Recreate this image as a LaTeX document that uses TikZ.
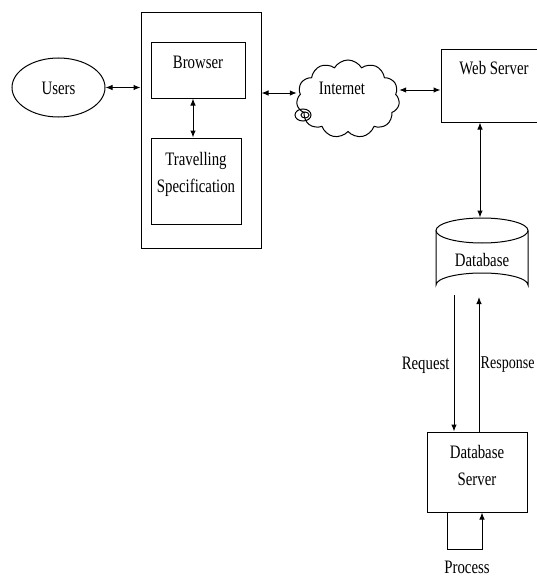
\documentclass[tikz,border=0pt]{standalone}
\usepackage{fontspec}
\setmainfont[FakeStretch=0.78]{Liberation Serif}
\usetikzlibrary{shapes.geometric,shapes.symbols,arrows.meta}
\begin{document}
\begin{tikzpicture}[x=1pt,y=-1pt,
  line width=1pt,
  box/.style={draw, rectangle, inner sep=0pt},
  txt/.style={inner sep=0pt, align=center, font=\fontsize{19}{27}\selectfont},
  tip/.style={-{Latex[length=7pt,width=5.5pt]}},
  dtip/.style={{Latex[length=7pt,width=5.5pt]}-{Latex[length=7pt,width=5.5pt]}}]
\useasboundingbox (0,0) rectangle (536,578);
% nodes
\node[draw, ellipse, minimum width=93, minimum height=59, inner sep=0pt] (users) at (58.5,87.5) {};
\node[txt] (userst) at (58.5,88) {Users};
\node[box, minimum width=120, minimum height=235] (outer) at (201,130.5) {};
\node[box, minimum width=94, minimum height=55] (browser) at (198,70.5) {};
\node[txt] (browsert) at (198,62) {Browser};
\node[box, minimum width=90, minimum height=86] (travel) at (196,181) {};
\node[txt] (travelt) at (196,174) {Travelling\\Specification};
\node[draw, cloud, cloud puffs=11, cloud puff arc=120, aspect=1.35, minimum width=103, minimum height=78, inner sep=0pt] (cloud) at (348,99) {};
\node[txt] (cloudt) at (342,88) {Internet};
\draw (303,115) ellipse [x radius=8, y radius=6];
\draw (305,115) ellipse [x radius=4, y radius=3];
\node[box, minimum width=105, minimum height=72] (web) at (493.5,86) {};
\node[txt] (webt) at (494,68) {Web Server};
% database cylinder
\node[inner sep=0pt, minimum width=92, minimum height=79] (db) at (482,257.5) {};
\draw (436,230.5) -- (436,285) arc [start angle=180, end angle=360, x radius=46, y radius=12] -- (528,230.5);
\draw (482,230.5) ellipse [x radius=46, y radius=12.5];
\node[txt] (dbt) at (482,260) {Database};
\node[box, minimum width=100, minimum height=80] (dbs) at (477,472) {};
\node[txt] (dbst) at (477,465.5) {Database\\Server};
% connectors
\draw[dtip] (users.east) -- (outer.west |- users.east);
\draw[dtip] (browser.south -| 193,0) -- (travel.north -| 193,0);
\draw[dtip] (outer.east |- 0,93) -- (cloud.west |- 0,93);
\draw[dtip] (cloud.east |- 0,90) -- (web.west |- 0,90);
\draw[dtip] (web.south -| 480,0) -- (db.north -| 480,0);
\coordinate (reqtop) at (454,294.5);
\coordinate (restop) at (479,297);
\draw[tip] (reqtop) -- (dbs.north -| reqtop);
\draw[tip] (dbs.north -| restop) -- (restop);
\node[txt, anchor=east] (req) at (450,365) {Request};
\node[txt, anchor=east, font=\fontsize{18}{22}\selectfont] (res) at (535,365) {Response};
\coordinate (p1) at (447,549);
\coordinate (p2) at (482,549);
\draw[tip] (dbs.south -| p1) -- (p1) -- (p2) -- (dbs.south -| p2);
\node[txt] (proc) at (467,567) {Process};
\end{tikzpicture}
\end{document}
